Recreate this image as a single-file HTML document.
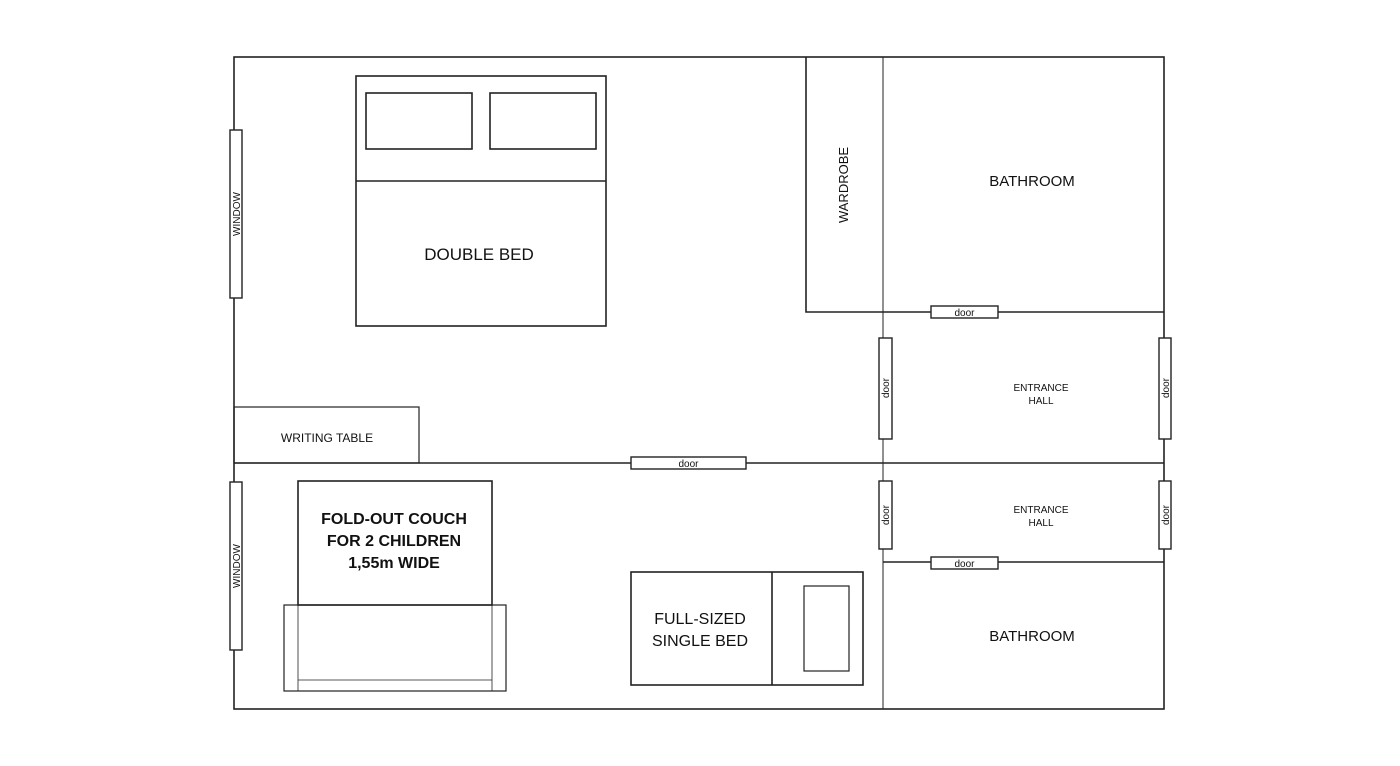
<!DOCTYPE html>
<html><head><meta charset="utf-8"><style>
html,body{margin:0;padding:0;background:#fff;}
svg{display:block;}
text{font-family:"Liberation Sans",sans-serif;fill:#111;}
</style></head><body>
<svg width="1400" height="766" viewBox="0 0 1400 766" xmlns="http://www.w3.org/2000/svg">
<g fill="none" stroke="#222" stroke-width="1.6">
<rect x="234" y="57" width="930" height="652"/>
<line x1="883" y1="57" x2="883" y2="709" stroke-width="1"/>
<polyline points="806,57 806,312 1164,312"/>
<line x1="234" y1="463" x2="1164" y2="463"/>
<line x1="883" y1="562" x2="1164" y2="562"/>
<!-- double bed -->
<rect x="356" y="76" width="250" height="250"/>
<line x1="356" y1="181" x2="606" y2="181"/>
<rect x="366" y="93" width="106" height="56"/>
<rect x="490" y="93" width="106" height="56"/>
<!-- writing table -->
<rect x="234" y="407" width="185" height="56" stroke-width="1.2"/>
<!-- couch -->
<rect x="298" y="481" width="194" height="124"/>
<rect x="284" y="605" width="222" height="86" stroke-width="1.2"/>
<line x1="298" y1="605" x2="298" y2="691" stroke-width="0.8"/>
<line x1="492" y1="605" x2="492" y2="691" stroke-width="0.8"/>
<line x1="298" y1="680" x2="492" y2="680" stroke-width="0.8"/>
<!-- single bed -->
<rect x="631" y="572" width="232" height="113"/>
<line x1="772" y1="572" x2="772" y2="685"/>
<rect x="804" y="586" width="45" height="85" stroke-width="1.2"/>
</g>
<g fill="#fff" stroke="#222" stroke-width="1.4">
<rect x="230" y="130" width="12" height="168"/>
<rect x="230" y="482" width="12" height="168"/>
<rect x="931" y="306" width="67" height="12"/>
<rect x="631" y="457" width="115" height="12"/>
<rect x="931" y="557" width="67" height="12"/>
<rect x="879" y="338" width="13" height="101"/>
<rect x="1159" y="338" width="12" height="101"/>
<rect x="879" y="481" width="13" height="68"/>
<rect x="1159" y="481" width="12" height="68"/>
</g>
<g font-size="10" text-anchor="middle">
<text x="964.5" y="316">door</text>
<text x="688.5" y="467">door</text>
<text x="964.5" y="567">door</text>
<text transform="translate(889,388) rotate(-90)">door</text>
<text transform="translate(1169,388) rotate(-90)">door</text>
<text transform="translate(889,515) rotate(-90)">door</text>
<text transform="translate(1169,515) rotate(-90)">door</text>
<text transform="translate(240,214) rotate(-90)" font-size="10">WINDOW</text>
<text transform="translate(240,566) rotate(-90)" font-size="10">WINDOW</text>
<text x="1041" y="391">ENTRANCE</text>
<text x="1041" y="404">HALL</text>
<text x="1041" y="513">ENTRANCE</text>
<text x="1041" y="526">HALL</text>
</g>
<g text-anchor="middle">
<text x="479" y="260" font-size="17">DOUBLE BED</text>
<text transform="translate(848,185) rotate(-90)" font-size="13">WARDROBE</text>
<text x="1032" y="186" font-size="15">BATHROOM</text>
<text x="1032" y="641" font-size="15">BATHROOM</text>
<text x="327" y="442" font-size="12">WRITING TABLE</text>
<text x="394" y="524" font-size="16" font-weight="bold">FOLD-OUT COUCH</text>
<text x="394" y="546" font-size="16" font-weight="bold">FOR 2 CHILDREN</text>
<text x="394" y="568" font-size="16" font-weight="bold">1,55m WIDE</text>
<text x="700" y="624" font-size="16">FULL-SIZED</text>
<text x="700" y="646" font-size="16">SINGLE BED</text>
</g>
</svg>
</body></html>
